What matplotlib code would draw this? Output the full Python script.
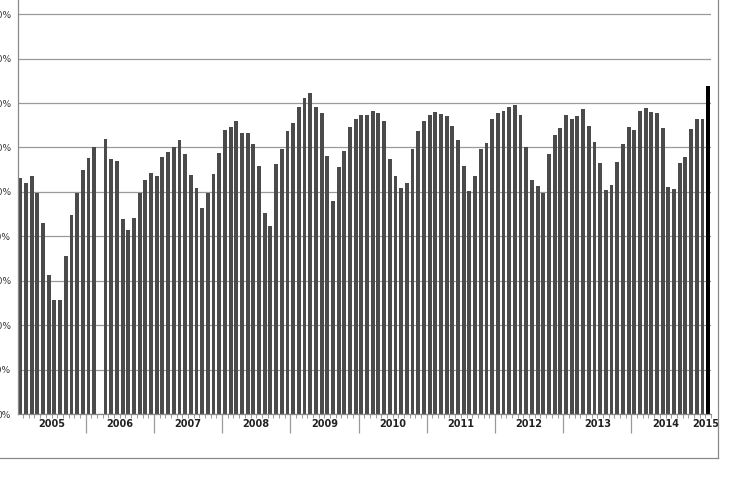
import numpy as np
import matplotlib.pyplot as plt
from matplotlib.lines import Line2D

# monthly values (%), Jan..Dec; None = no bar that month
years = [2005, 2006, 2007, 2008, 2009, 2010, 2011, 2012, 2013, 2014, 2015]
v2005 = [53.2, 52.0, 53.6, 49.8, 42.9, 31.3, 25.6, 25.6, 35.5, 44.9, 49.7, 55.0]
v2006 = [57.6, 60.2, None, 62.0, 57.3, 56.9, 43.8, 41.5, 44.2, 49.8, 52.7, 54.3]
v2007 = [53.6, 57.8, 59.0, 60.0, 61.7, 58.6, 53.7, 50.8, 46.4, 49.7, 54.0, 58.8]
v2008 = [64.0, 64.7, 66.0, 63.2, 63.2, 60.8, 55.9, 45.2, 42.3, 56.3, 59.6, 63.8]
v2009 = [65.6, 69.1, 71.1, 72.3, 69.0, 67.7, 58.1, 48.0, 55.6, 59.2, 64.7, 66.4]
v2010 = [67.2, 67.2, 68.3, 67.8, 65.9, 57.4, 53.6, 50.8, 52.0, 59.7, 63.8, 66.0]
v2011 = [67.2, 67.9, 67.6, 67.1, 64.8, 61.7, 55.9, 50.2, 53.6, 59.7, 61.1, 66.4]
v2012 = [67.8, 68.3, 69.1, 69.5, 67.2, 60.1, 52.6, 51.4, 49.8, 58.6, 62.9, 64.3]
v2013 = [67.2, 66.3, 67.1, 68.6, 64.8, 61.3, 56.5, 50.5, 51.5, 56.8, 60.7, 64.7]
v2014 = [63.9, 68.1, 68.8, 68.0, 67.7, 64.3, 51.2, 50.7, 56.6, 57.8, 64.1, 66.5]
v2015 = [66.5, 73.9]
y_ticks = [0, 10, 20, 30, 40, 50, 60, 70, 80, 90]

series = [v2005, v2006, v2007, v2008, v2009, v2010, v2011, v2012, v2013, v2014, v2015]
vals = np.array([np.nan if v is None else v for s in series for v in s], dtype=float)
x = np.arange(len(vals))

fig = plt.figure(figsize=(7.3, 5.0), dpi=100)
ax = fig.add_axes([18 / 730, 86 / 500, 693 / 730, 414 / 500])

colors = ['#4b4b4b'] * len(vals)
colors[-1] = '#000000'
ok = ~np.isnan(vals)
ax.bar(x[ok], vals[ok], width=0.68, color=np.array(colors)[ok], zorder=2)

ax.set_xlim(-0.4, len(vals) - 0.5)
ax.set_ylim(0, 93.2)
ax.set_yticks(y_ticks)
ax.set_yticklabels([f'{t}%' for t in y_ticks], fontsize=6.5, color='#333333')
ax.yaxis.grid(True, color='#9a9a9a', linewidth=0.9)
ax.set_axisbelow(True)
ax.tick_params(axis='y', length=0, pad=5)

# year separators (long) and month ticks (short)
bounds = np.cumsum([len(s) for s in series])[:-2] - 0.5
ax.set_xticks(bounds)
ax.set_xticklabels([])
ax.set_xticks(np.arange(len(vals)) + 0.5, minor=True)
ax.tick_params(axis='x', which='major', length=14, color='#9a9a9a', width=0.9)
ax.tick_params(axis='x', which='minor', length=3, color='#9a9a9a', width=0.7)

start = 0
for yr, s in zip(years, series):
    c = start + (len(s) - 1) / 2
    ax.text(c, -0.024, str(yr), transform=ax.get_xaxis_transform(),
            ha='center', va='center', fontsize=7, fontweight='semibold',
            color='#222222')
    start += len(s)

for side in ['top', 'right']:
    ax.spines[side].set_visible(False)
for side in ['left', 'bottom']:
    ax.spines[side].set_color('#8a8a8a')
    ax.spines[side].set_linewidth(0.9)

# outer chart frame (right and bottom edge)
fig.add_artist(Line2D([718 / 730, 718 / 730], [1, 42 / 500], color='#8a8a8a', lw=0.9))
fig.add_artist(Line2D([0, 718 / 730], [42 / 500, 42 / 500], color='#8a8a8a', lw=0.9))

fig.savefig('out.png', dpi=100)
